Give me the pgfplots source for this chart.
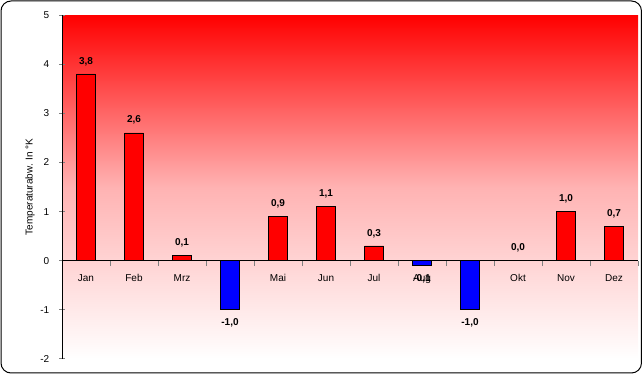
\documentclass[border=0pt]{standalone}
\usepackage{pgfplots}
\pgfplotsset{compat=1.18}
\usepackage{fontspec}
\setmainfont{Liberation Sans}
\begin{document}
\begin{tikzpicture}
\path[use as bounding box] (0pt,0pt) rectangle (482.25pt,281.25pt);
\begin{axis}[
  at={(46.5pt,12pt)}, anchor=south west,
  scale only axis, width=432pt, height=258pt,
  xmin=-0.5, xmax=11.5, ymin=-2, ymax=5,
  enlargelimits=false,
  axis x line=middle, axis y line=left,
  axis line style={-, line width=0.75pt},
  hide obscured x ticks=false, hide obscured y ticks=false,
  axis background/.style={top color=red, bottom color=white, middle color=red!30},
  xtick={0,...,11},
  xticklabels={Jan,Feb,Mrz,Apr,Mai,Jun,Jul,Aug,Sep,Okt,Nov,Dez},
  major x tick style={draw=none},
  minor xtick={-0.5,0.5,...,11.5},
  minor x tick style={line width=0.75pt},
  ytick={-2,...,5},
  tick align=center,
  major tick length=4pt, minor tick length=4pt,
  y tick style={line width=0.75pt},
  font=\fontsize{7.5}{9}\selectfont,
  /pgf/number format/assume math mode=true,
  yticklabel style={xshift=-4pt},
  xticklabel style={yshift=0.5pt, text height=1.6ex, text depth=0.3ex},
  ylabel={Temperaturabw. In °K},
  ylabel style={at={(axis description cs:-0.0556,0.5)}, anchor=center},
  ybar, bar width=14.25pt, bar shift=0pt,
  nodes near coords={\pgfmathprintnumber[fixed,zerofill,precision=1,use comma,assume math mode=true]{\pgfplotspointmeta}},
  every node near coord/.append style={font=\fontsize{7.5}{9}\selectfont\bfseries, inner sep=1pt},
]
\addplot[draw=black, line width=0.6pt, fill=red,
  nodes near coords align={above},
  every node near coord/.append style={yshift=5pt}]
  coordinates {(0,3.8) (1,2.6) (2,0.1) (4,0.9) (5,1.1) (6,0.3) (9,0.0) (10,1.0) (11,0.7)};
\addplot[draw=black, line width=0.6pt, fill=blue,
  nodes near coords align={below},
  every node near coord/.append style={yshift=-5.5pt}]
  coordinates {(3,-1.0) (7,-0.1) (8,-1.0)};
\end{axis}
\draw[line width=0.75pt, rounded corners=7.5pt] (0.75pt,1.5pt) rectangle (481.1pt,280.5pt);
\end{tikzpicture}
\end{document}
